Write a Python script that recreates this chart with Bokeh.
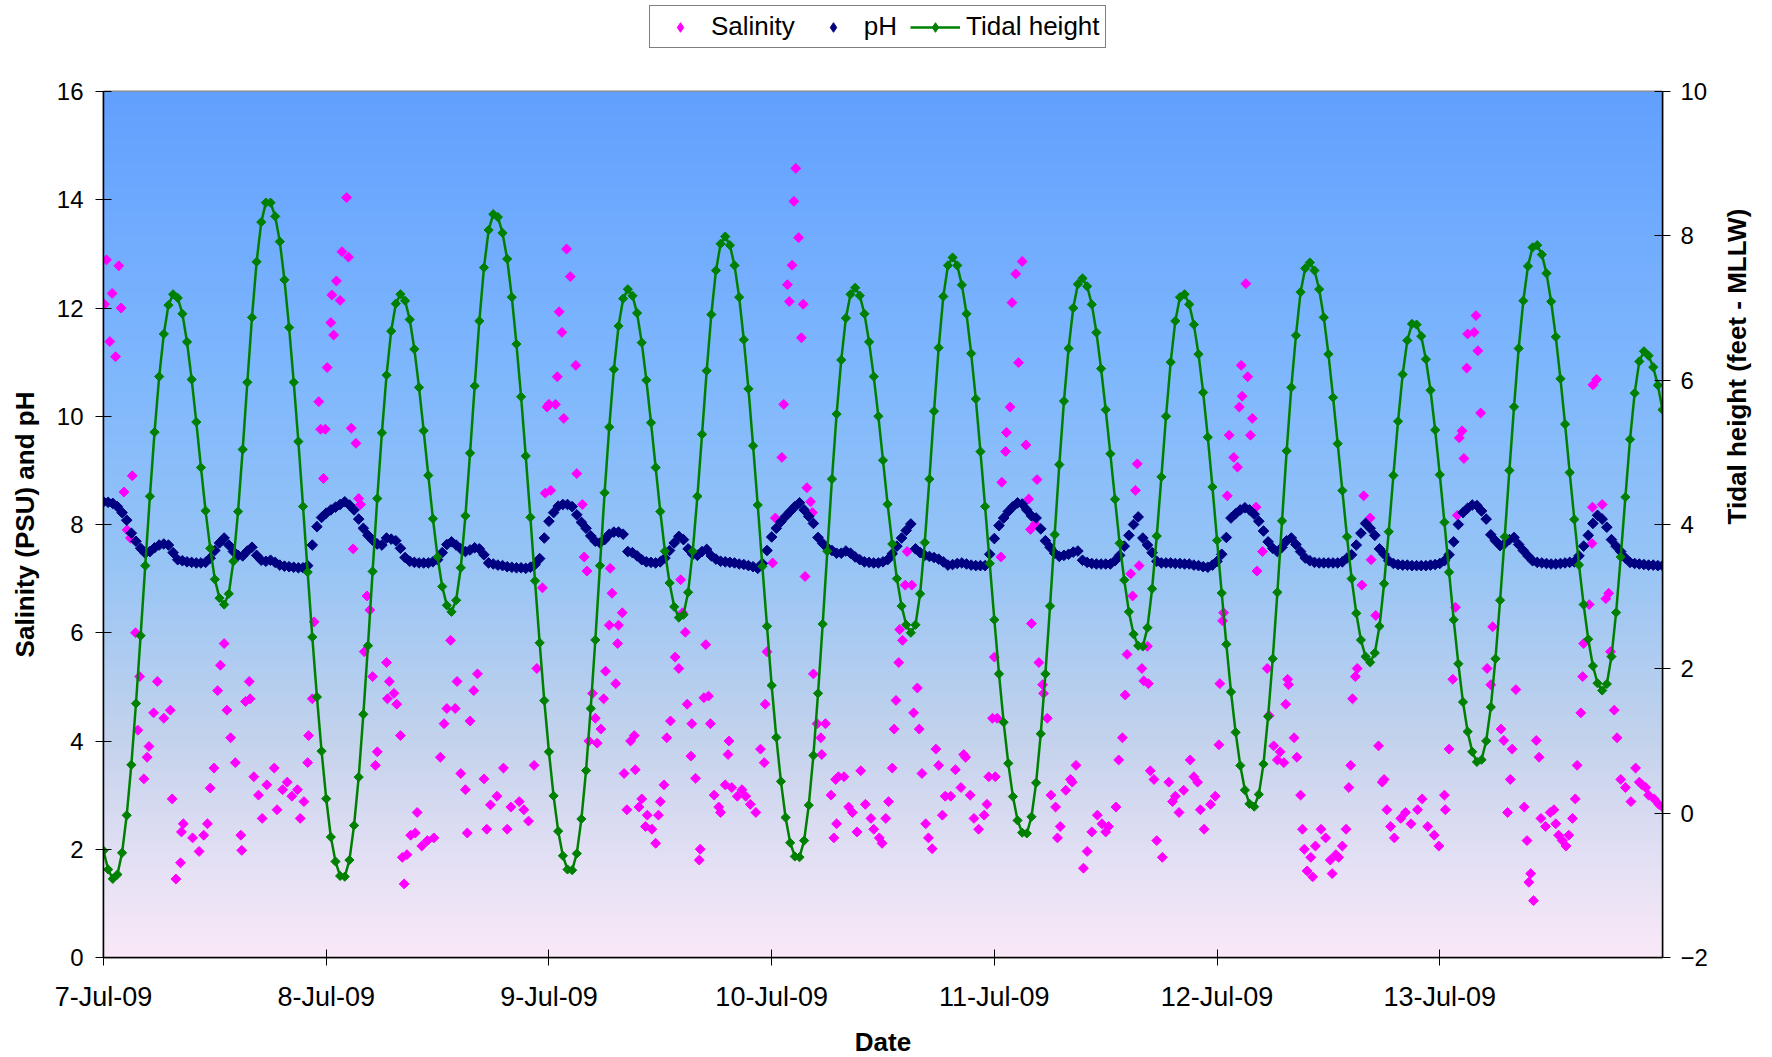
import numpy as np
from bokeh.plotting import figure
from bokeh.layouts import column
from bokeh.models import Range1d, LinearAxis, FixedTicker, Legend, LegendItem
from bokeh.embed import file_html
from bokeh.resources import INLINE

# ---------------- data ----------------
date_labels = ["7-Jul-09", "8-Jul-09", "9-Jul-09", "10-Jul-09",
               "11-Jul-09", "12-Jul-09", "13-Jul-09"]
left_ticks = [0, 2, 4, 6, 8, 10, 12, 14, 16]
tide_ticks = [-2, 0, 2, 4, 6, 8, 10]

# tidal height (feet - MLLW), every 30 minutes from 7-Jul-09 00:00
tide_height = [
    -0.52, -0.78, -0.91, -0.85, -0.55, -0.03, 0.67, 1.52, 2.46, 3.43, 4.39, 5.28,
    6.05, 6.64, 7.04, 7.19, 7.14, 6.92, 6.53, 6.01, 5.42, 4.79, 4.19, 3.67,
    3.24, 2.98, 2.89, 3.04, 3.49, 4.18, 5.04, 5.97, 6.87, 7.64, 8.19, 8.46,
    8.46, 8.27, 7.92, 7.39, 6.73, 5.97, 5.15, 4.25, 3.34, 2.44, 1.61, 0.86,
    0.20, -0.33, -0.67, -0.87, -0.88, -0.65, -0.17, 0.50, 1.37, 2.32, 3.35, 4.36,
    5.27, 6.07, 6.68, 7.06, 7.19, 7.10, 6.84, 6.43, 5.90, 5.30, 4.68, 4.08,
    3.55, 3.14, 2.88, 2.79, 2.95, 3.40, 4.12, 4.99, 5.92, 6.82, 7.56, 8.08,
    8.30, 8.26, 8.04, 7.68, 7.15, 6.50, 5.77, 4.95, 4.10, 3.22, 2.36, 1.56,
    0.85, 0.24, -0.25, -0.59, -0.78, -0.79, -0.56, -0.08, 0.59, 1.45, 2.40, 3.43,
    4.44, 5.35, 6.15, 6.75, 7.13, 7.26, 7.17, 6.93, 6.52, 6.00, 5.41, 4.79,
    4.18, 3.63, 3.19, 2.86, 2.71, 2.75, 3.06, 3.63, 4.39, 5.25, 6.13, 6.91,
    7.52, 7.89, 7.99, 7.87, 7.59, 7.15, 6.56, 5.88, 5.09, 4.27, 3.42, 2.59,
    1.77, 1.05, 0.44, -0.06, -0.41, -0.60, -0.61, -0.38, 0.11, 0.80, 1.66, 2.62,
    3.63, 4.63, 5.53, 6.28, 6.86, 7.19, 7.28, 7.17, 6.92, 6.53, 6.05, 5.50,
    4.89, 4.28, 3.73, 3.25, 2.87, 2.61, 2.50, 2.61, 3.04, 3.75, 4.63, 5.57,
    6.45, 7.16, 7.59, 7.70, 7.59, 7.32, 6.92, 6.37, 5.74, 5.01, 4.25, 3.46,
    2.68, 1.93, 1.26, 0.69, 0.23, -0.10, -0.27, -0.28, -0.05, 0.42, 1.10, 1.93,
    2.87, 3.86, 4.83, 5.71, 6.44, 7.00, 7.33, 7.41, 7.30, 7.05, 6.66, 6.16,
    5.59, 4.98, 4.35, 3.74, 3.23, 2.79, 2.48, 2.32, 2.31, 2.57, 3.11, 3.84,
    4.66, 5.50, 6.25, 6.82, 7.15, 7.19, 7.05, 6.77, 6.36, 5.83, 5.21, 4.52,
    3.78, 3.05, 2.34, 1.68, 1.12, 0.66, 0.32, 0.13, 0.09, 0.26, 0.68, 1.34,
    2.14, 3.06, 4.05, 5.02, 5.90, 6.62, 7.22, 7.55, 7.63, 7.52, 7.26, 6.87,
    6.36, 5.76, 5.12, 4.47, 3.83, 3.25, 2.77, 2.40, 2.17, 2.09, 2.22, 2.59,
    3.18, 3.90, 4.68, 5.43, 6.08, 6.55, 6.78, 6.77, 6.61, 6.29, 5.86, 5.31,
    4.69, 4.03, 3.34, 2.68, 2.07, 1.54, 1.13, 0.85, 0.71, 0.74, 1.00, 1.47,
    2.14, 2.95, 3.83, 4.75, 5.63, 6.44, 7.10, 7.58, 7.84, 7.87, 7.74, 7.48,
    7.09, 6.60, 6.02, 5.39, 4.72, 4.07, 3.44, 2.89, 2.41, 2.04, 1.80, 1.70,
    1.79, 2.17, 2.78, 3.55, 4.38, 5.18, 5.82, 6.26, 6.40, 6.34, 6.18, 5.93,
    5.59,
]

# pH, every 30 minutes from 7-Jul-09 00:00
ph = [
    8.42, 8.41, 8.39, 8.33, 8.22, 8.08, 7.84, 7.69, 7.56, 7.47, 7.50, 7.57,
    7.62, 7.64, 7.62, 7.48, 7.35, 7.33, 7.31, 7.30, 7.29, 7.29, 7.30, 7.38,
    7.52, 7.66, 7.75, 7.62, 7.50, 7.43, 7.42, 7.51, 7.58, 7.43, 7.34, 7.32,
    7.34, 7.30, 7.25, 7.23, 7.22, 7.21, 7.20, 7.20, 7.24, 7.62, 7.96, 8.13,
    8.21, 8.27, 8.32, 8.37, 8.42, 8.36, 8.27, 8.10, 7.93, 7.80, 7.71, 7.64,
    7.62, 7.75, 7.73, 7.70, 7.56, 7.39, 7.32, 7.30, 7.29, 7.29, 7.29, 7.31,
    7.35, 7.48, 7.63, 7.68, 7.62, 7.55, 7.50, 7.53, 7.57, 7.55, 7.44, 7.29,
    7.27, 7.25, 7.24, 7.22, 7.21, 7.20, 7.20, 7.19, 7.21, 7.26, 7.37, 7.75,
    8.06, 8.22, 8.34, 8.37, 8.37, 8.33, 8.18, 8.04, 7.93, 7.79, 7.69, 7.66,
    7.72, 7.82, 7.86, 7.86, 7.82, 7.50, 7.48, 7.42, 7.35, 7.31, 7.30, 7.29,
    7.31, 7.38, 7.52, 7.66, 7.78, 7.72, 7.55, 7.45, 7.43, 7.50, 7.54, 7.42,
    7.36, 7.32, 7.31, 7.30, 7.29, 7.27, 7.26, 7.24, 7.22, 7.19, 7.28, 7.52,
    7.77, 7.93, 8.05, 8.15, 8.24, 8.33, 8.40, 8.27, 8.15, 8.02, 7.76, 7.65,
    7.57, 7.52, 7.47, 7.47, 7.51, 7.47, 7.40, 7.35, 7.31, 7.30, 7.29, 7.29,
    7.31, 7.35, 7.46, 7.60, 7.75, 7.89, 8.01, 7.55, 7.48, 7.43, 7.41, 7.39,
    7.36, 7.31, 7.25, 7.26, 7.28, 7.29, 7.27, 7.25, 7.24, 7.24, 7.24, 7.45,
    7.74, 7.98, 8.12, 8.24, 8.33, 8.40, 8.38, 8.27, 8.16, 8.12, 7.92, 7.70,
    7.58, 7.47, 7.41, 7.43, 7.45, 7.49, 7.51, 7.34, 7.30, 7.28, 7.27, 7.27,
    7.27, 7.27, 7.33, 7.43, 7.60, 7.80, 8.00, 8.14, 7.75, 7.62, 7.48, 7.32,
    7.29, 7.29, 7.29, 7.28, 7.28, 7.27, 7.27, 7.25, 7.24, 7.22, 7.21, 7.25,
    7.32, 7.45, 7.76, 8.12, 8.20, 8.27, 8.31, 8.27, 8.19, 8.06, 7.88, 7.68,
    7.56, 7.50, 7.58, 7.70, 7.75, 7.63, 7.50, 7.38, 7.33, 7.30, 7.29, 7.29,
    7.29, 7.29, 7.29, 7.31, 7.38, 7.44, 7.62, 7.84, 8.02, 7.93, 7.80, 7.55,
    7.45, 7.33, 7.28, 7.26, 7.25, 7.25, 7.24, 7.24, 7.24, 7.24, 7.25, 7.26,
    7.28, 7.33, 7.44, 7.68, 8.00, 8.22, 8.30, 8.36, 8.35, 8.25, 8.10, 7.81,
    7.70, 7.61, 7.65, 7.72, 7.76, 7.63, 7.52, 7.42, 7.33, 7.30, 7.29, 7.28,
    7.27, 7.27, 7.28, 7.29, 7.30, 7.31, 7.42, 7.60, 7.80, 8.02, 8.17, 8.10,
    7.95, 7.72, 7.60, 7.50, 7.38, 7.30, 7.28, 7.27, 7.26, 7.25, 7.25, 7.24,
    7.24,
]

# salinity readings: hours after 7-Jul-09 00:00 and PSU
salinity_hours = [
    0.1, 0.32, 0.68, 0.93, 1.3, 1.65, 1.9, 2.2, 2.55, 2.9,
    3.1, 3.45, 3.7, 3.9, 4.35, 4.7, 4.9, 5.4, 5.8, 6.5,
    7.2, 7.4, 7.8, 8.3, 8.4, 8.6, 9.6, 10.3, 10.8, 11.2,
    11.5, 11.9, 12.3, 12.6, 13.0, 13.3, 13.7, 14.2, 14.8, 14.9,
    15.3, 15.7, 15.8, 16.2, 16.7, 17.1, 17.6, 18.4, 18.7, 19.3,
    19.8, 20.3, 20.9, 21.2, 21.6, 22.0, 22.1, 22.5, 22.7, 23.2,
    23.4, 23.7, 23.9, 24.1, 24.5, 24.6, 24.8, 25.1, 25.5, 25.7,
    26.2, 26.4, 26.7, 26.9, 27.2, 27.5, 27.7, 28.1, 28.4, 28.7,
    29.0, 29.3, 29.5, 30.5, 30.6, 30.8, 31.3, 31.6, 32.0, 32.2,
    32.4, 32.7, 33.1, 33.6, 33.8, 34.3, 34.9, 35.6, 36.3, 36.7,
    37.0, 37.4, 37.9, 38.1, 38.5, 39.0, 39.2, 39.5, 39.9, 40.3,
    41.0, 41.3, 41.7, 42.4, 43.1, 43.5, 43.9, 44.8, 45.3, 45.8,
    46.4, 46.7, 47.3, 47.6, 47.8,
    48.0, 48.2, 48.7, 48.9, 49.1, 49.4, 49.6, 49.9, 50.3, 50.9,
    51.0, 51.6, 51.8, 52.1, 52.3, 52.7, 53.0, 53.2, 53.6, 53.9,
    54.1, 54.5, 54.6, 54.8, 55.2, 55.4, 55.5, 55.9, 56.1, 56.4,
    56.8, 57.2, 57.3, 57.7, 58.0, 58.4, 58.6, 59.1, 59.5, 59.8,
    60.0, 60.4, 60.7, 61.1, 61.6, 62.0, 62.2, 62.4, 62.7, 62.9,
    63.3, 63.4, 63.8, 64.2, 64.3, 64.7, 64.9, 65.2, 65.4, 65.8,
    66.3, 66.5, 67.0, 67.3, 67.4, 67.7, 68.3, 68.8, 69.2, 69.7,
    70.3, 70.8, 71.2, 71.3, 71.5, 72.1, 72.4, 73.1, 73.3, 73.7,
    73.9, 74.2, 74.4, 74.6, 74.9, 75.2, 75.4, 75.6, 75.8, 76.2,
    76.4, 76.5, 76.9, 77.3, 77.4, 77.8, 78.4, 78.7, 78.9, 79.0,
    79.2, 79.8, 80.3, 80.7, 81.2, 81.6, 82.1, 82.7, 83.0, 83.6,
    83.9, 84.3, 84.6, 85.0, 85.2, 85.4, 85.7, 85.8, 86.1, 86.4,
    86.6, 87.1, 87.3, 87.7, 87.9, 88.2, 88.6, 88.9, 89.3, 89.7,
    90.0, 90.4, 90.7, 91.3, 91.8, 92.4, 92.7, 92.9, 93.4, 93.8,
    94.3, 94.9, 95.2, 95.4, 95.8,
    96.0, 96.1, 96.3, 96.7, 96.8, 97.2, 97.3, 97.7, 97.9, 98.3,
    98.6, 99.0, 99.4, 99.7, 99.9, 100.0, 100.4, 100.6, 100.8, 101.2,
    101.3, 101.7, 102.1, 102.6, 102.8, 103.1, 103.7, 104.2, 104.4, 104.8,
    105.6, 106.0, 106.5, 107.1, 107.6, 108.0, 108.3, 109.1, 109.4, 109.8,
    110.1, 110.3, 110.7, 110.9, 111.2, 111.4, 111.6, 111.9, 112.1, 112.5,
    112.6, 112.8, 113.2, 113.5, 114.1, 114.8, 115.2, 115.5, 115.9, 116.4,
    117.1, 117.5, 117.9, 118.2, 118.6, 119.3, 119.8, 120.2, 120.3, 120.6,
    120.7, 121.1, 121.3, 121.8, 122.2, 122.4, 122.6, 122.7, 123.1, 123.3,
    123.6, 123.8, 124.2, 124.3, 124.9, 125.4, 125.6, 126.1, 126.5, 126.8,
    127.2, 127.4, 127.6, 127.7, 128.3, 128.6, 129.0, 129.2, 129.4, 129.7,
    130.1, 130.3, 130.6,
    131.2, 131.7, 132.2, 132.4, 132.8, 133.1, 133.5, 133.9, 134.2, 134.4,
    134.6, 134.9, 135.1, 135.6, 135.8, 136.5, 136.6, 137.1, 137.4, 137.8,
    138.0, 138.3, 138.7, 139.1, 139.8, 140.3, 140.9, 141.6, 142.1, 142.7,
    143.4, 143.9, 144.5, 144.6, 145.0, 145.4, 145.7, 145.9, 146.1, 146.4,
    146.6, 146.9, 147.0, 147.7, 147.9, 148.1, 148.4, 149.1, 149.5, 149.7,
    150.6, 150.9, 151.3, 151.6, 151.8, 152.2, 153.1, 153.4, 153.6, 153.8,
    154.1, 154.4, 154.7, 154.9, 155.4, 155.9, 156.3, 156.5, 156.8, 157.2,
    157.6, 157.9, 158.3, 158.6, 158.8, 159.2, 159.4, 159.5, 160.1, 160.4,
    160.45, 160.5, 160.9, 161.5, 161.9, 162.2, 162.4, 162.8, 163.1, 163.5,
    164.0, 164.6, 165.1, 165.5, 165.8, 166.2, 166.5, 167.1, 167.6, 168.0,
]
salinity_psu = [
    12.07, 12.89, 11.38, 12.27, 11.1, 12.78, 12.0, 8.6, 7.9, 7.75,
    8.9, 6.0, 4.2, 5.19, 3.3, 3.7, 3.9, 4.52, 5.1, 4.42,
    4.57, 2.93, 1.45, 1.75, 2.32, 2.47, 2.21, 1.96, 2.26, 2.47,
    3.13, 3.5, 4.93, 5.4, 5.8, 4.57, 4.06, 3.6, 2.26, 1.98,
    4.73, 5.1, 4.78, 3.34, 3.0, 2.57, 3.19, 3.5, 2.73, 3.1,
    3.24, 2.98, 3.1, 2.57, 2.88, 3.6, 4.1, 4.78, 6.2, 10.27,
    9.76, 8.85, 9.76, 10.9, 11.73, 12.24, 11.5, 12.5, 12.14, 13.04,
    14.04, 12.94, 9.78, 7.55, 9.5, 8.48, 8.37, 5.65, 6.68, 6.42,
    5.19, 3.55, 3.8, 5.45, 4.78, 5.1, 4.88, 4.68, 4.1, 1.85,
    1.36, 1.9, 2.26, 2.3, 2.68, 2.06, 2.16, 2.21, 3.7, 4.32,
    4.6, 5.86, 4.6, 5.1, 3.4, 3.1, 2.3, 4.37, 4.93, 5.24,
    3.3, 2.37, 2.82, 2.98, 3.5, 2.37, 2.78, 2.88, 2.73, 2.52,
    3.55, 5.34, 6.83, 8.58, 10.17,
    10.22, 8.63, 10.22, 10.73, 11.93, 11.55, 9.96, 13.09, 12.58, 10.94,
    8.94, 8.37, 7.4, 7.14, 4.0, 4.88, 4.42, 3.96, 4.22, 4.78,
    5.29, 6.14, 7.19, 6.73, 5.06, 5.8, 6.14, 6.37, 3.4, 2.73,
    4.0, 4.1, 3.47, 2.78, 2.93, 2.42, 2.63, 2.37, 2.11, 2.63,
    2.88, 3.19, 4.06, 4.37, 5.55, 5.34, 6.98, 6.37, 6.01, 4.68,
    3.72, 4.32, 3.31, 1.8, 2.0, 4.8, 5.78, 4.83, 4.32, 3.0,
    2.78, 2.68, 3.19, 3.75, 4.0, 3.14, 2.98, 3.1, 2.98, 2.83,
    2.68, 3.85, 3.6, 4.68, 5.65, 7.29, 8.12, 9.24, 10.22, 12.43,
    12.12, 12.79, 13.97, 14.58, 13.3, 11.45, 12.07, 7.04, 8.68, 8.42,
    8.22, 5.24, 4.32, 4.06, 3.75, 4.32, 3.0, 2.21, 3.29, 2.47,
    3.34, 3.34, 2.78, 2.68, 2.32, 3.45, 2.83, 2.57, 2.37, 2.21,
    2.11, 2.57, 2.88, 3.5, 4.22, 4.75, 5.45, 6.06, 5.86, 6.88,
    7.5, 6.88, 4.52, 4.98, 4.22, 3.4, 2.47, 2.21, 2.01, 3.85,
    3.55, 2.63, 2.98, 2.98, 3.47, 3.14, 3.75, 3.7, 3.0, 2.57,
    2.37, 2.63, 2.83, 3.34, 4.42,
    5.55, 3.34, 4.42, 7.4, 8.78, 9.35, 9.7, 10.17, 12.1, 12.63,
    10.99, 12.86, 9.47, 8.47, 7.91, 6.17, 8.01, 8.83, 5.45, 5.04,
    4.88, 4.42, 3.0, 2.78, 2.21, 2.42, 3.09, 3.29, 3.24, 3.55,
    1.65, 1.96, 2.32, 2.63, 2.47, 2.32, 2.42, 2.78, 3.65, 4.06,
    4.85, 5.6, 7.09, 6.68, 8.63, 9.12, 7.24, 5.34, 5.11, 5.75,
    5.06, 3.45, 3.29, 2.16, 1.85, 3.24, 2.88, 2.98, 2.68, 3.09,
    3.65, 3.34, 3.24, 2.73, 2.37, 2.83, 2.98, 3.93, 5.06, 6.22,
    6.37, 8.53, 9.65, 9.24, 9.06, 10.17, 10.94, 10.37, 12.45, 10.73,
    9.65, 9.96, 8.32, 7.14, 7.5, 5.34, 4.47, 3.91, 3.65, 3.8,
    3.6, 4.68, 5.14, 5.04, 4.06, 3.7, 3.0, 2.37, 2.0, 1.6,
    1.85, 1.49, 2.06,
    2.37, 2.21, 1.8, 1.55, 1.9, 1.85, 2.06, 2.37, 3.14, 3.55,
    4.78, 5.19, 5.34, 6.88, 8.53, 8.12, 7.35, 6.32, 3.91, 3.24,
    3.29, 2.73, 2.42, 2.21, 2.57, 2.68, 2.47, 2.73, 2.93, 2.42,
    2.26, 2.06, 3.0, 2.73, 3.85, 5.14, 6.47, 8.17, 9.6, 9.73,
    9.22, 10.89, 11.52, 11.55, 11.86, 11.21, 10.06, 5.34, 5.04, 6.11,
    4.22, 4.01, 2.68, 3.29, 3.85, 4.95, 2.78, 2.16, 1.39, 1.55,
    1.05, 4.01, 3.7, 2.57, 2.42, 2.68, 2.73, 2.47, 2.26, 2.16,
    2.06, 2.26, 2.57, 2.93, 3.55, 4.52, 5.19, 5.8, 6.52, 7.65,
    8.32, 10.58, 10.68, 8.37, 6.63, 6.73, 5.65, 4.57, 4.06, 3.29,
    3.14, 2.88, 3.5, 3.24, 3.19, 3.14, 3.0, 2.93, 2.83, 2.78,
]

# ---------------- figure ----------------
FONT = "Liberation Sans"
SAL_COLOR, PH_COLOR, TIDE_COLOR = "#FF00FF", "#000080", "#008000"
n_s = min(len(salinity_hours), len(salinity_psu))
sal_x = salinity_hours[:n_s]
sal_y = salinity_psu[:n_s]
hours = (np.arange(len(tide_height)) * 0.5).tolist()
ph_hours = (np.arange(len(ph)) * 0.5).tolist()
x_end = 24 * len(date_labels)

TOP_PAD = 14      # room above the frame for the top tick labels
LEGEND_H = 91 - TOP_PAD

p = figure(frame_width=1559, frame_height=866,
           x_range=Range1d(0, x_end), y_range=Range1d(left_ticks[0], left_ticks[-1]),
           output_backend="svg", toolbar_location=None,
           min_border_left=103, min_border_top=TOP_PAD, min_border_right=0, min_border_bottom=0)
p.extra_y_ranges = {"tide": Range1d(tide_ticks[0], tide_ticks[-1])}
p.xgrid.visible = False
p.ygrid.visible = False
p.outline_line_color = "#8a8a8a"
p.outline_line_width = 2
p.border_fill_color = "white"

# vertical gradient background (blue at top -> pale pink at bottom)
N = 400
t = np.linspace(0, 1, N)  # 0 = bottom, 1 = top
st = [0.0, 0.10, 0.25, 0.46, 0.67, 1.0]
rr = [250, 230, 196, 150, 128, 98]
gg = [233, 225, 211, 196, 184, 160]
bb = [248, 245, 236, 246, 253, 255]
bg = np.empty((N, 2), dtype=np.uint32)
view = bg.view(dtype=np.uint8).reshape((N, 2, 4))
view[:, :, 0] = np.interp(t, st, rr)[:, None]
view[:, :, 1] = np.interp(t, st, gg)[:, None]
view[:, :, 2] = np.interp(t, st, bb)[:, None]
view[:, :, 3] = 255
p.image_rgba(image=[bg], x=0, y=left_ticks[0], dw=x_end, dh=left_ticks[-1] - left_ticks[0])

DIAMOND = dict(marker="square", angle=np.pi / 4)
p.scatter(sal_x, sal_y, size=7, color=SAL_COLOR, **DIAMOND)
p.scatter(ph_hours, ph, size=7.5, color=PH_COLOR, **DIAMOND)
p.line(hours, tide_height, y_range_name="tide", color=TIDE_COLOR, line_width=2.5)
p.scatter(hours, tide_height, y_range_name="tide", size=6.5, color=TIDE_COLOR, **DIAMOND)

# axes
p.xaxis.ticker = FixedTicker(ticks=[24 * i for i in range(len(date_labels))])
p.xaxis.major_label_overrides = {24 * i: lab for i, lab in enumerate(date_labels)}
p.xaxis.axis_label = "Date"
p.yaxis.ticker = FixedTicker(ticks=left_ticks)
p.yaxis.axis_label = "Salinity (PSU) and pH"

ax_r = LinearAxis(y_range_name="tide", ticker=FixedTicker(ticks=tide_ticks),
                  axis_label="Tidal height (feet - MLLW)")
if "axis_label_orientation" in ax_r.properties():
    ax_r.axis_label_orientation = np.pi / 2
p.add_layout(ax_r, "right")

for ax in [p.xaxis[0], p.yaxis[0], ax_r]:
    ax.axis_line_color = "black"
    ax.axis_line_width = 1.5
    ax.major_tick_line_color = "black"
    ax.major_tick_line_width = 1
    ax.major_tick_in = 8
    ax.major_tick_out = 8
    ax.minor_tick_line_color = None
    ax.major_label_text_font = FONT
    ax.major_label_text_color = "black"
    ax.major_label_text_font_size = "24px"
    ax.axis_label_text_font = FONT
    ax.axis_label_text_font_style = "bold"
    ax.axis_label_text_font_size = "26px"
    ax.axis_label_text_color = "black"

p.xaxis.major_label_text_font_size = "27px"
p.xaxis.major_label_standoff = 16
p.xaxis.axis_label_standoff = 12
p.yaxis.major_label_standoff = 12
p.yaxis.axis_label_standoff = 14
ax_r.major_label_standoff = 10
ax_r.axis_label_standoff = 26

# ---------------- legend strip above the chart ----------------
leg = figure(width=1760, height=LEGEND_H, x_range=Range1d(0, 1), y_range=Range1d(0, 1),
             output_backend="svg", toolbar_location=None,
             x_axis_location=None, y_axis_location=None, min_border=0)
leg.grid.visible = False
leg.outline_line_color = None
# legend-only renderers: one sample each, placed outside the visible range
l_sal = leg.scatter(x=[-5], y=[-5], marker="diamond", size=15, color=SAL_COLOR)
l_ph = leg.scatter(x=[-5], y=[-5], marker="diamond", size=15, color=PH_COLOR)
l_tl = leg.line(x=[-5, -4], y=[-5, -4], color=TIDE_COLOR, line_width=2.5)
l_tm = leg.scatter(x=[-5], y=[-5], marker="diamond", size=15, color=TIDE_COLOR)

legend = Legend(items=[LegendItem(label="Salinity", renderers=[l_sal]),
                       LegendItem(label="pH", renderers=[l_ph]),
                       LegendItem(label="Tidal height", renderers=[l_tl, l_tm])],
                location=(546, LEGEND_H - 48), orientation="horizontal",
                label_text_font=FONT, label_text_font_size="26px", label_text_color="black",
                glyph_width=50, glyph_height=24, label_standoff=6, spacing=13,
                padding=5, margin=0,
                border_line_color="black", border_line_width=1.5,
                background_fill_color="white", background_fill_alpha=1.0)
leg.add_layout(legend)

layout = column(leg, p, spacing=0)
open("out.html", "w").write(file_html(layout, INLINE))
